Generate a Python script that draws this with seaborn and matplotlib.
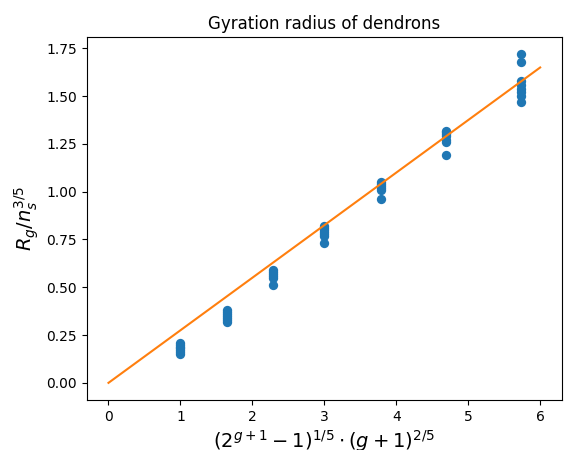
import numpy as np
import pandas as pd
import matplotlib
matplotlib.use("Agg")
import matplotlib.pyplot as plt
import seaborn as sns

# generations and measured gyration radii (scaled)
generations = [0, 1, 2, 3, 4, 5, 6]
rg_values = [
    [0.21, 0.20, 0.19, 0.18, 0.17, 0.16, 0.15],
    [0.38, 0.37, 0.36, 0.35, 0.34, 0.33, 0.32],
    [0.59, 0.58, 0.57, 0.56, 0.55, 0.51],
    [0.82, 0.81, 0.80, 0.79, 0.78, 0.77, 0.73],
    [1.05, 1.04, 1.03, 1.02, 1.01, 0.96],
    [1.32, 1.31, 1.30, 1.29, 1.27, 1.26, 1.19],
    [1.72, 1.68, 1.58, 1.56, 1.54, 1.52, 1.50, 1.47],
]
fit_x = [0, 6]
fit_slope = 0.275


def scaling(g):
    return (2 ** (g + 1) - 1) ** 0.2 * (g + 1) ** 0.4


rows = []
for g, vals in zip(generations, rg_values):
    for v in vals:
        rows.append({"x": scaling(g), "rg": v})
df = pd.DataFrame(rows)
fit = pd.DataFrame({"x": fit_x, "y": [fit_slope * v for v in fit_x]})

fig = plt.figure(figsize=(5.68, 4.5), dpi=100)
ax = fig.add_axes([0.153, 0.111, 0.836, 0.807])

sns.scatterplot(data=df, x="x", y="rg", ax=ax, color="#1f77b4", s=45, linewidth=0)
sns.lineplot(data=fit, x="x", y="y", ax=ax, color="#ff7f0e", linewidth=1.5)

ax.set_title("Gyration radius of dendrons")
ax.set_xlabel(r"$(2^{g+1}-1)^{1/5}\cdot(g+1)^{2/5}$", fontsize=14, labelpad=3)
ax.set_ylabel(r"$R_g/n_s^{3/5}$", fontsize=14)
ax.set_xticks([0, 1, 2, 3, 4, 5, 6])
ax.set_yticks(np.arange(0, 1.76, 0.25))
ax.set_xlim(-0.3, 6.3)
ax.set_ylim(-0.09, 1.81)

fig.savefig("out.png", dpi=100)
